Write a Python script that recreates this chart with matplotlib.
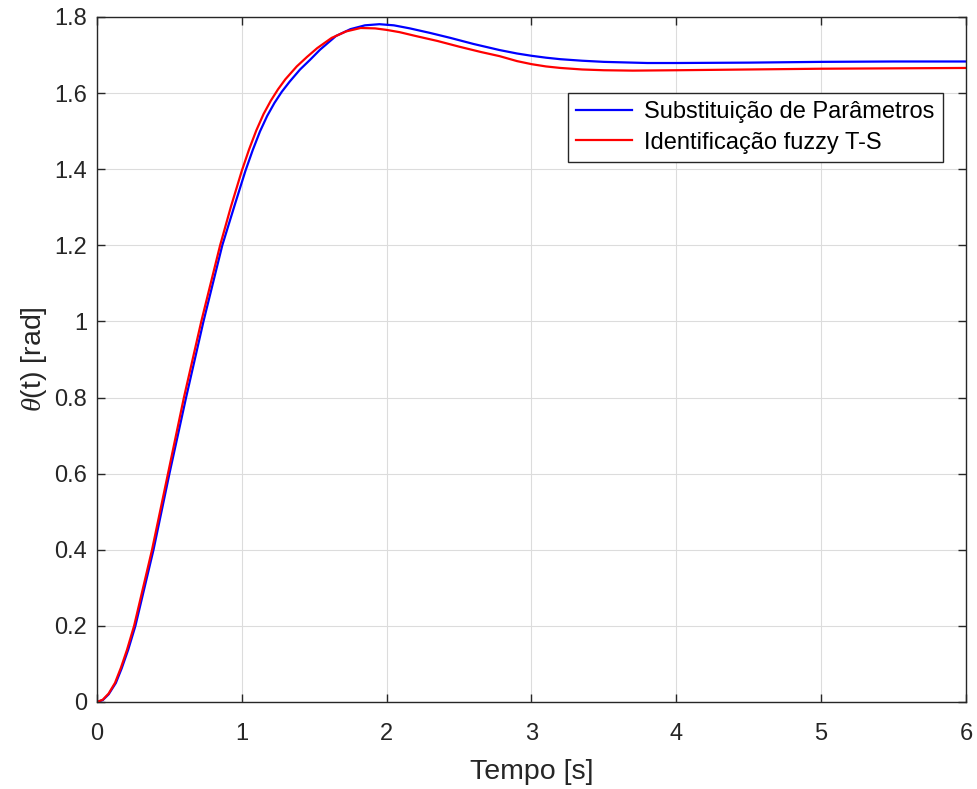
import matplotlib
matplotlib.use("Agg")
import matplotlib.pyplot as plt

plt.rcParams["font.family"] = ["Liberation Sans", "DejaVu Sans"]
plt.rcParams["mathtext.fontset"] = "custom"
plt.rcParams["mathtext.it"] = "Liberation Serif:italic"
plt.rcParams["mathtext.rm"] = "Liberation Sans"

# values
t_sub = [0, 0.04, 0.08, 0.13, 0.17, 0.215, 0.265, 0.39, 0.5, 0.615, 0.735, 0.865,
         0.95, 1.025, 1.075, 1.125, 1.175, 1.225, 1.275, 1.33, 1.402, 1.47, 1.54,
         1.65, 1.75, 1.85, 1.95, 2.05, 2.16, 2.3, 2.44, 2.6, 2.78, 2.9, 3.0,
         3.1, 3.2, 3.35, 3.5, 3.8, 4.0, 4.5, 5.0, 5.5, 6.0]
y_sub = [0, 0.005, 0.02, 0.05, 0.088, 0.137, 0.2, 0.4, 0.6, 0.8, 1.0, 1.2,
         1.305, 1.396, 1.450, 1.499, 1.540, 1.574, 1.603, 1.630, 1.662, 1.687, 1.714,
         1.750, 1.768, 1.778, 1.781, 1.778, 1.770, 1.758, 1.745, 1.729, 1.713, 1.704, 1.698,
         1.693, 1.689, 1.685, 1.682, 1.679, 1.679, 1.680, 1.682, 1.683, 1.683]

t_fuzzy = [0, 0.04, 0.08, 0.124, 0.165, 0.207, 0.256, 0.38, 0.49, 0.6, 0.72, 0.85,
           0.925, 1.0, 1.05, 1.1, 1.15, 1.2, 1.25, 1.3, 1.379, 1.45, 1.52,
           1.62, 1.72, 1.82, 1.92, 2.0, 2.09, 2.2, 2.35, 2.5, 2.65, 2.78, 2.9,
           3.0, 3.1, 3.2, 3.35, 3.5, 3.7, 4.0, 4.5, 5.0, 5.5, 6.0]
y_fuzzy = [0, 0.006, 0.022, 0.05, 0.09, 0.137, 0.2, 0.4, 0.6, 0.8, 1.0, 1.2,
           1.302, 1.396, 1.452, 1.502, 1.545, 1.580, 1.610, 1.636, 1.670, 1.695, 1.718,
           1.745, 1.762, 1.771, 1.770, 1.766, 1.760, 1.750, 1.737, 1.722, 1.708, 1.697, 1.684,
           1.676, 1.670, 1.666, 1.662, 1.660, 1.659, 1.660, 1.662, 1.664, 1.665, 1.666]

x_ticks = [0, 1, 2, 3, 4, 5, 6]
y_ticks = [0, 0.2, 0.4, 0.6, 0.8, 1, 1.2, 1.4, 1.6, 1.8]
y_tick_labels = ["0", "0.2", "0.4", "0.6", "0.8", "1", "1.2", "1.4", "1.6", "1.8"]

fig = plt.figure(figsize=(9.78, 7.89), dpi=100)
ax = fig.add_axes([0.0992, 0.1103, 0.8885, 0.8682])

ax.plot(t_sub, y_sub, color="#0000ff", lw=1.6, label="Substituição de Parâmetros")
ax.plot(t_fuzzy, y_fuzzy, color="#ff0000", lw=1.6, label="Identificação fuzzy T-S")

ax.set_xlim(0, 6)
ax.set_ylim(0, 1.8)
ax.set_xticks(x_ticks)
ax.set_yticks(y_ticks)
ax.set_yticklabels(y_tick_labels)
ax.grid(True, color="#dcdcdc", lw=0.8)
ax.set_axisbelow(True)

for s in ax.spines.values():
    s.set_color("#262626")
    s.set_linewidth(1.0)
ax.tick_params(direction="in", top=True, right=True, length=6, width=1.0,
               colors="#262626", labelsize=17)
ax.tick_params(axis="y", pad=7)
ax.tick_params(axis="x", pad=15)

ax.set_xlabel("Tempo [s]", fontsize=20.5, color="#262626", labelpad=10)
ax.set_ylabel(r"$\theta$(t) [rad]", fontsize=20.5, color="#262626", labelpad=4)

leg = ax.legend(loc="upper right", bbox_to_anchor=(0.9735, 0.889), borderaxespad=0,
                fontsize=17, fancybox=False, framealpha=1, edgecolor="#262626",
                handlelength=2.4, handletextpad=0.5, borderpad=0.35, labelspacing=0.35)
leg.get_frame().set_linewidth(1.0)

fig.savefig("out.png", dpi=100)
